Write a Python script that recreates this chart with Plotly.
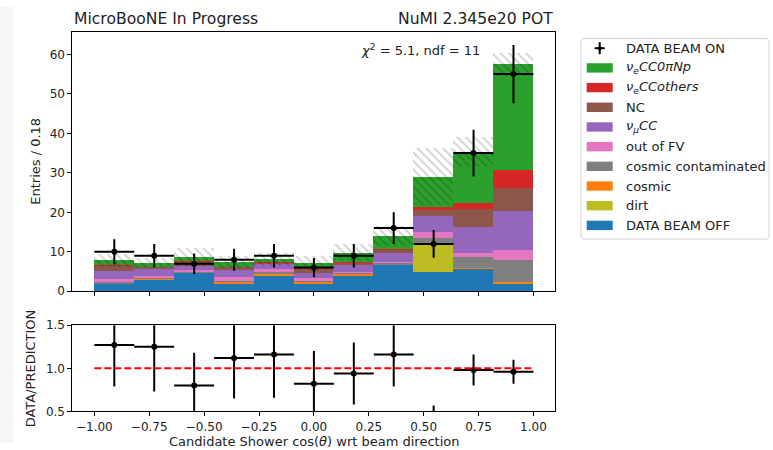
import numpy as np
import plotly.graph_objects as go

W, H = 773, 450
FONT = "DejaVu Sans"

# ---------------- data ----------------
bin_edges = np.linspace(-1.0, 1.0, 12)
bin_centers = 0.5 * (bin_edges[:-1] + bin_edges[1:])
bin_width = bin_edges[1] - bin_edges[0]

beam_off    = [1.9, 2.95, 4.6, 1.85, 3.8, 1.9, 3.9, 6.7, 4.8, 5.6, 1.9]
dirt        = [0.0, 0.0, 0.0, 0.0, 0.0, 0.0, 0.0, 0.0, 7.3, 0.0, 0.0]
cosmic      = [0.1, 0.3, 0.15, 0.55, 0.7, 0.5, 0.5, 0.1, 0.1, 0.2, 0.5]
cosmic_cont = [0.3, 0.2, 0.2, 0.2, 0.2, 0.2, 0.2, 0.3, 1.3, 2.8, 5.4]
out_fv      = [0.65, 0.3, 0.4, 0.9, 0.8, 0.8, 0.3, 0.3, 1.4, 1.1, 2.6]
numu_cc     = [2.15, 1.75, 0.95, 1.9, 1.25, 1.1, 1.6, 2.2, 4.2, 6.6, 9.9]
nc          = [1.4, 0.6, 1.3, 0.7, 0.55, 1.3, 0.8, 0.9, 1.6, 4.6, 5.7]
nue_others  = [0.1, 0.1, 0.1, 0.1, 0.1, 0.1, 0.15, 0.2, 0.5, 1.5, 4.6]
nue_0pinp   = [1.25, 1.0, 0.95, 1.1, 0.6, 1.2, 2.2, 3.2, 7.8, 12.8, 26.8]
pred_err    = [1.65, 1.2, 2.35, 1.5, 1.7, 1.8, 2.15, 2.6, 7.2, 3.8, 2.9]

data_on     = [10, 9, 7, 8, 9, 6, 9, 16, 12, 35, 55]
data_on_err = [3.2, 3.0, 2.6, 2.8, 3.0, 2.4, 3.0, 4.0, 3.5, 5.9, 7.4]

ratio       = [1.27, 1.25, 0.80, 1.12, 1.16, 0.82, 0.94, 1.16, 0.41, 0.98, 0.96]
ratio_err   = [0.48, 0.52, 0.38, 0.47, 0.50, 0.38, 0.36, 0.37, 0.16, 0.18, 0.14]

x_tickvals = [-1.0, -0.75, -0.5, -0.25, 0.0, 0.25, 0.5, 0.75, 1.0]
x_ticktext = ["\u22121.00", "\u22120.75", "\u22120.50", "\u22120.25", "0.00", "0.25", "0.50", "0.75", "1.00"]
y_tickvals = [0, 10, 20, 30, 40, 50, 60]
r_tickvals = [0.5, 1.0, 1.5]
r_ticktext = ["0.5", "1.0", "1.5"]

# stacking order bottom -> top
components = [
    ("DATA BEAM OFF", beam_off, "#1f77b4"),
    ("dirt", dirt, "#bcbd22"),
    ("cosmic", cosmic, "#ff7f0e"),
    ("cosmic contaminated", cosmic_cont, "#7f7f7f"),
    ("out of FV", out_fv, "#e377c2"),
    ("<i>\u03bd<sub>\u03bc</sub>CC</i>", numu_cc, "#9467bd"),
    ("NC", nc, "#8c564b"),
    ("<i>\u03bd<sub>e</sub>CCothers</i>", nue_others, "#d62728"),
    ("<i>\u03bd<sub>e</sub>CC0\u03c0Np</i>", nue_0pinp, "#2ca02c"),
]

# ---------------- layout helpers ----------------
# the rendered page maps figure y to about 0.971*y + 5.4 on screen; compensate
Y_SCALE, Y_OFF = 0.971, 5.4

def px(x):
    return x / W

def py(y):
    yf = (y - Y_OFF) / Y_SCALE
    return 1 - yf / H

ax_left, ax_right = 72.4, 555.4
main_top, main_bot = 30.7, 290.3
rat_top, rat_bot = 324.3, 410.7

fig = go.Figure()

cum = np.zeros(len(bin_centers))
for name, vals, col in components:
    vals = np.asarray(vals, dtype=float)
    fig.add_trace(go.Bar(
        x=bin_centers, y=vals, base=cum.copy(), width=bin_width,
        marker=dict(color=col, line=dict(width=0)),
        xaxis="x", yaxis="y", showlegend=False, hoverinfo="skip"))
    cum = cum + vals
pred = cum
perr = np.asarray(pred_err)

fig.add_trace(go.Bar(
    x=bin_centers, y=2 * perr, base=pred - perr, width=bin_width,
    marker=dict(color="rgba(0,0,0,0)", line=dict(width=0),
                pattern=dict(shape="\\", fgcolor="rgba(0,0,0,0.38)", bgcolor="rgba(0,0,0,0)",
                             size=6, solidity=0.3, fillmode="overlay")),
    xaxis="x", yaxis="y", showlegend=False, hoverinfo="skip"))

fig.add_trace(go.Scatter(
    x=bin_centers, y=data_on, mode="markers",
    marker=dict(color="black", size=6),
    error_x=dict(type="constant", value=bin_width / 2, color="black", thickness=2, width=0),
    error_y=dict(type="data", array=data_on_err, color="black", thickness=2, width=0),
    xaxis="x", yaxis="y", showlegend=False))

fig.add_trace(go.Scatter(
    x=bin_centers, y=ratio, mode="markers",
    marker=dict(color="black", size=6),
    error_x=dict(type="constant", value=bin_width / 2, color="black", thickness=2, width=0),
    error_y=dict(type="data", array=ratio_err, color="black", thickness=2, width=0),
    xaxis="x2", yaxis="y2", showlegend=False, cliponaxis=True))

fig.add_trace(go.Scatter(
    x=[-1.0, 1.0], y=[1.0, 1.0], mode="lines",
    line=dict(color="red", dash="7px,3px", width=2),
    xaxis="x2", yaxis="y2", showlegend=False))

axis_common = dict(showline=True, mirror=True, linecolor="black", linewidth=1,
                   ticks="outside", ticklen=4, tickwidth=1, tickcolor="black",
                   showgrid=False, zeroline=False,
                   tickfont=dict(family=FONT, size=12, color="#222"))

fig.update_layout(
    width=W, height=H,
    margin=dict(l=0, r=0, t=0, b=0),
    paper_bgcolor="white", plot_bgcolor="white",
    barmode="overlay", bargap=0,
    font=dict(family=FONT, size=13, color="#222"),
    xaxis=dict(domain=[px(ax_left), px(ax_right)], range=[-1.1, 1.1], anchor="y",
               tickvals=x_tickvals, showticklabels=False, matches="x2", **axis_common),
    yaxis=dict(domain=[py(main_bot), py(main_top)], range=[0, 65.6], anchor="x",
               tickvals=y_tickvals, **axis_common),
    xaxis2=dict(domain=[px(ax_left), px(ax_right)], range=[-1.1, 1.1], anchor="y2",
                tickvals=x_tickvals, ticktext=x_ticktext, **axis_common),
    yaxis2=dict(domain=[py(rat_bot), py(rat_top)], range=[0.5, 1.5], anchor="x2",
                tickvals=r_tickvals, ticktext=r_ticktext, **axis_common),
)

shapes = []
annotations = []

# light strip at left edge
shapes.append(dict(type="rect", xref="paper", yref="paper", x0=0, x1=px(14), y0=0, y1=1,
                   fillcolor="#f6f6f6", line=dict(width=0), layer="below"))

def text(x, y, s, size=13, xanchor="left", yanchor="middle", angle=0):
    annotations.append(dict(x=px(x), y=py(y), xref="paper", yref="paper", text=s,
                            showarrow=False, xanchor=xanchor, yanchor=yanchor, textangle=angle,
                            font=dict(family=FONT, size=size, color="#222")))

text(ax_left, 17, "MicroBooNE In Progress", size=15.6)
text(ax_right, 17, "NuMI 2.345e20 POT", size=15.6, xanchor="right")
text(482, 48, "<i>\u03c7</i><sup>2</sup> = 5.1, ndf = 11", size=13, xanchor="right")
text(36, (main_top + main_bot) / 2, "Entries / 0.18", size=13, xanchor="center", angle=-90)
text(30, (rat_top + rat_bot) / 2, "DATA/PREDICTION", size=13, xanchor="center", angle=-90)
text((ax_left + ax_right) / 2, 441, "Candidate Shower cos(<i>\u03b8</i>) wrt beam direction",
     size=13, xanchor="center")

# legend box (rounded)
lx0, lx1, ly0, ly1, r = 581, 769, 37, 238, 3
path = (f"M {px(lx0 + r)},{py(ly0)} L {px(lx1 - r)},{py(ly0)} Q {px(lx1)},{py(ly0)} {px(lx1)},{py(ly0 + r)} "
        f"L {px(lx1)},{py(ly1 - r)} Q {px(lx1)},{py(ly1)} {px(lx1 - r)},{py(ly1)} "
        f"L {px(lx0 + r)},{py(ly1)} Q {px(lx0)},{py(ly1)} {px(lx0)},{py(ly1 - r)} "
        f"L {px(lx0)},{py(ly0 + r)} Q {px(lx0)},{py(ly0)} {px(lx0 + r)},{py(ly0)} Z")
shapes.append(dict(type="path", xref="paper", yref="paper", path=path,
                   fillcolor="white", line=dict(color="#d4d4d4", width=1)))

row0, drow = 46.7, 19.73
cx, cy = 599.7, row0
shapes.append(dict(type="line", xref="paper", yref="paper", x0=px(cx - 5), x1=px(cx + 5),
                   y0=py(cy), y1=py(cy), line=dict(color="black", width=2)))
shapes.append(dict(type="line", xref="paper", yref="paper", x0=px(cx), x1=px(cx),
                   y0=py(cy - 6), y1=py(cy + 6), line=dict(color="black", width=2)))
shapes.append(dict(type="circle", xref="paper", yref="paper", x0=px(cx - 2), x1=px(cx + 2),
                   y0=py(cy - 2), y1=py(cy + 2), fillcolor="black", line=dict(width=0)))
text(624.3, cy, "DATA BEAM ON")

for i, (name, vals, col) in enumerate(reversed(components)):
    yy = row0 + drow * (i + 1)
    shapes.append(dict(type="rect", xref="paper", yref="paper",
                       x0=px(586.7), x1=px(612.7), y0=py(yy - 4.7), y1=py(yy + 4.7),
                       fillcolor=col, line=dict(width=0)))
    text(624.3, yy, name)

fig.update_layout(shapes=shapes, annotations=annotations)
fig.write_html("out.html")
